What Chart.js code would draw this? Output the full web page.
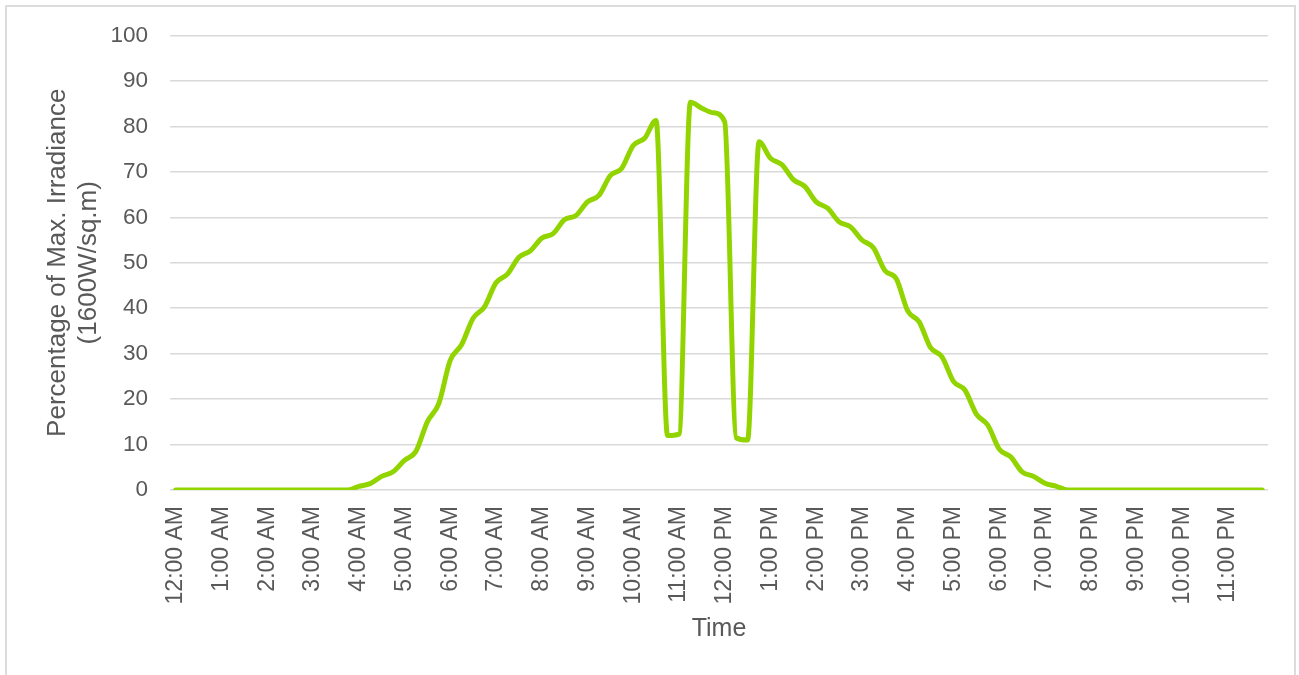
<!DOCTYPE html>
<html>
<head>
<meta charset="utf-8">
<script src="https://cdn.jsdelivr.net/npm/chart.js@4/dist/chart.umd.min.js"></script>
<style>
  body { margin: 0; background: #ffffff; }
  #wrap { position: relative; width: 1299px; height: 675px; overflow: hidden; }
  #frame { position: absolute; left: 5px; top: 5px; width: 1291px; height: 690px; border: 2px solid #dcdcdc; box-sizing: border-box; }
  #chart { position: absolute; left: 0; top: 0; }
</style>
</head>
<body>
<div id="wrap">
  <div id="frame"></div>
  <canvas id="chart" width="1299" height="675"></canvas>
</div>
<script>
// Etiquetas de cada hora en el eje X
const hourLabels = [
  '12:00 AM', '1:00 AM', '2:00 AM', '3:00 AM', '4:00 AM', '5:00 AM',
  '6:00 AM', '7:00 AM', '8:00 AM', '9:00 AM', '10:00 AM', '11:00 AM',
  '12:00 PM', '1:00 PM', '2:00 PM', '3:00 PM', '4:00 PM', '5:00 PM',
  '6:00 PM', '7:00 PM', '8:00 PM', '9:00 PM', '10:00 PM', '11:00 PM'
];
const quarters = [':00', ':15', ':30', ':45'];

// Porcentaje de irradiancia, una lectura cada 15 minutos (96 puntos)
const irradiance = [
  0, 0, 0, 0,  0, 0, 0, 0,  0, 0, 0, 0,  0, 0, 0, 0,          // 12 AM - 3 AM
  0.8, 1.4, 3, 4,                                             // 4 AM
  6.5, 8.5, 15, 19,                                           // 5 AM
  28.5, 32, 37.8, 40.3,                                       // 6 AM
  45.6, 47.5, 51.2, 52.6,                                     // 7 AM
  55.4, 56.4, 59.5, 60.4,                                     // 8 AM
  63.4, 64.8, 69.2, 70.8,                                     // 9 AM
  75.8, 77.4, 81.3, 12,                                       // 10 AM
  12.3, 85.3, 84, 83,                                         // 11 AM
  81, 11.5, 11, 76.6,                                         // 12 PM
  73, 71.6, 68.3, 66.8,                                       // 1 PM
  63.4, 62, 59, 57.9,                                         // 2 PM
  55, 53.3, 48.3, 46.5,                                       // 3 PM
  39.4, 37, 31.3, 29.3,                                       // 4 PM
  23.9, 22, 16.7, 14.3,                                       // 5 PM
  9, 7.3, 4, 3,                                               // 6 PM
  1.5, 0.8, 0, 0,                                             // 7 PM
  0, 0, 0, 0,  0, 0, 0, 0,  0, 0, 0, 0,  0, 0, 0, 0           // 8 PM - 11 PM
];

// Categorías de 15 minutos construidas a partir de las horas
const categories = [];
hourLabels.forEach(h => {
  const [hh, rest] = h.split(':');
  const ampm = rest.split(' ')[1];
  quarters.forEach(q => categories.push(hh + q + ' ' + ampm));
});

const fontFamily = "'Liberation Sans', Arial, sans-serif";
const grey = '#595959';

new Chart(document.getElementById('chart').getContext('2d'), {
  type: 'line',
  data: {
    labels: categories,
    datasets: [{
      label: 'Irradiance',
      data: irradiance,
      borderColor: '#92d400',
      borderWidth: 5,
      pointRadius: 0,
      cubicInterpolationMode: 'monotone',
      borderCapStyle: 'round',
      borderJoinStyle: 'round',
      fill: false
    }]
  },
  options: {
    responsive: false,
    animation: false,
    devicePixelRatio: 1,
    layout: { padding: { top: 33, right: 31, bottom: 0, left: 0 } },
    plugins: { legend: { display: false }, tooltip: { enabled: false } },
    scales: {
      x: {
        offset: true,
        grid: { display: false },
        border: { display: false },
        ticks: {
          autoSkip: false,
          maxRotation: 90,
          minRotation: 90,
          padding: 8,
          color: grey,
          font: { family: fontFamily, size: 23 },
          callback: (value, index) => index % 4 === 0 ? hourLabels[index / 4] : ''
        },
        title: {
          display: true,
          text: 'Time',
          color: grey,
          font: { family: fontFamily, size: 25, lineHeight: 1.2 },
          padding: { top: 0, bottom: 31 }
        },
        afterFit: scale => { scale.height = 185; }
      },
      y: {
        min: 0,
        max: 100,
        grid: { color: '#d9d9d9', lineWidth: 1.5, drawTicks: false },
        border: { display: false },
        ticks: {
          stepSize: 10,
          padding: 22,
          color: grey,
          font: { family: fontFamily, size: 22.5 }
        },
        title: {
          display: true,
          text: ['Percentage of Max. Irradiance', '(1600W/sq.m)'],
          color: grey,
          font: { family: fontFamily, size: 26, lineHeight: 1.2 },
          padding: { top: 42, bottom: 0 }
        },
        afterFit: scale => { scale.width = 170; }
      }
    }
  }
});
</script>
</body>
</html>
